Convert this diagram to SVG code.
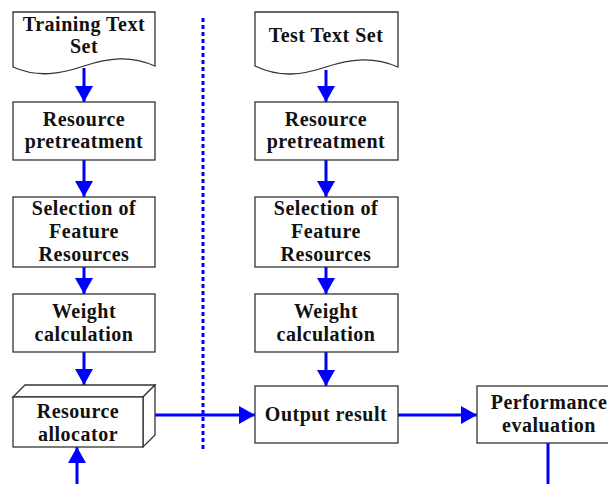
<svg xmlns="http://www.w3.org/2000/svg" width="608" height="484" viewBox="0 0 608 484">
<defs>
<style>
.box{fill:#fff;stroke:#333;stroke-width:1.3}
.t{font-family:"Liberation Serif","Times New Roman",serif;font-weight:bold;font-size:20px;letter-spacing:0.5px;fill:#111;text-anchor:middle}
.c{stroke:#0000ff;stroke-width:3;fill:none}
.dot{stroke:#0000ff;stroke-width:3;stroke-dasharray:4 3;fill:none}
</style>
<marker id="ah" markerUnits="userSpaceOnUse" markerWidth="18" markerHeight="18" viewBox="0 0 16 18" refX="16" refY="9" orient="auto">
<path d="M0,0 L16,9 L0,18 Z" fill="#0000ff"/>
</marker>
</defs>
<rect width="608" height="484" fill="#fff"/>
<g id="connectors">
<line class="dot" x1="203" y1="18" x2="203" y2="451"/>
<line class="c" x1="84" y1="68" x2="84" y2="102" marker-end="url(#ah)"/>
<line class="c" x1="84" y1="160" x2="84" y2="197" marker-end="url(#ah)"/>
<line class="c" x1="84" y1="267" x2="84" y2="294" marker-end="url(#ah)"/>
<line class="c" x1="84" y1="352" x2="84" y2="385" marker-end="url(#ah)"/>
<line class="c" x1="77" y1="484" x2="77" y2="447" marker-end="url(#ah)"/>
<line class="c" x1="326" y1="70" x2="326" y2="102" marker-end="url(#ah)"/>
<line class="c" x1="326" y1="160" x2="326" y2="197" marker-end="url(#ah)"/>
<line class="c" x1="326" y1="267" x2="326" y2="294" marker-end="url(#ah)"/>
<line class="c" x1="326" y1="352" x2="326" y2="386" marker-end="url(#ah)"/>
<line class="c" x1="155" y1="415" x2="255" y2="415" marker-end="url(#ah)"/>
<line class="c" x1="398" y1="415" x2="477" y2="415" marker-end="url(#ah)"/>
<line class="c" x1="548" y1="443" x2="548" y2="484"/>
</g>
<g id="training-text-set">
<path class="box" d="M13,12 H155 V66 C130,55 108,58 84,66 C60,74 38,78 13,67 Z"/>
<text class="t" x="84" y="31">Training Text</text>
<text class="t" x="84" y="53">Set</text>
</g>
<g id="resource-pretreatment-1">
<rect class="box" x="13" y="102" width="142" height="58"/>
<text class="t" x="84" y="126">Resource</text>
<text class="t" x="84" y="148">pretreatment</text>
</g>
<g id="selection-1">
<rect class="box" x="13" y="197" width="142" height="70"/>
<text class="t" x="84" y="215">Selection of</text>
<text class="t" x="84" y="238">Feature</text>
<text class="t" x="84" y="261">Resources</text>
</g>
<g id="weight-1">
<rect class="box" x="13" y="294" width="142" height="58"/>
<text class="t" x="84" y="318">Weight</text>
<text class="t" x="84" y="341">calculation</text>
</g>
<g id="resource-allocator">
<path class="box" d="M13,397 L25,385 H155 L143,397 Z"/>
<path class="box" d="M143,397 L155,385 V435 L143,447 Z"/>
<rect class="box" x="13" y="397" width="130" height="50"/>
<text class="t" x="78" y="418">Resource</text>
<text class="t" x="78" y="441">allocator</text>
</g>
<g id="test-text-set">
<path class="box" d="M255,12 H398 V67 C373,56 350,59 326,67 C302,75 280,78 255,66 Z"/>
<text class="t" x="326" y="42">Test Text Set</text>
</g>
<g id="resource-pretreatment-2">
<rect class="box" x="255" y="102" width="143" height="58"/>
<text class="t" x="326" y="126">Resource</text>
<text class="t" x="326" y="148">pretreatment</text>
</g>
<g id="selection-2">
<rect class="box" x="255" y="197" width="143" height="70"/>
<text class="t" x="326" y="215">Selection of</text>
<text class="t" x="326" y="238">Feature</text>
<text class="t" x="326" y="261">Resources</text>
</g>
<g id="weight-2">
<rect class="box" x="255" y="294" width="143" height="58"/>
<text class="t" x="326" y="318">Weight</text>
<text class="t" x="326" y="341">calculation</text>
</g>
<g id="output-result">
<rect class="box" x="255" y="386" width="143" height="57"/>
<text class="t" x="326" y="421">Output result</text>
</g>
<g id="performance-evaluation">
<rect class="box" x="477" y="386" width="140" height="57"/>
<text class="t" x="549" y="409">Performance</text>
<text class="t" x="549" y="432">evaluation</text>
</g>
</svg>
